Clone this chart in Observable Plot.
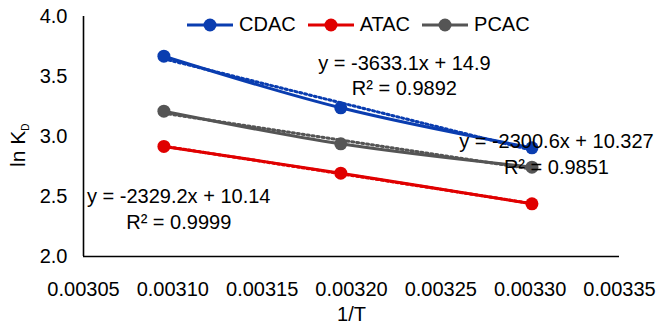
<!DOCTYPE html>
<html>
<head>
<meta charset="utf-8">
<script src="https://cdn.jsdelivr.net/npm/d3@7"></script>
<script src="https://cdn.jsdelivr.net/npm/@observablehq/plot@0.6"></script>
<style>
  body { margin: 0; background: #fff; font-family: "Liberation Sans", Arial, Helvetica, sans-serif; }
  #wrap { position: relative; width: 657px; height: 326px; overflow: hidden; }
  #legend { position: absolute; left: 187px; top: 13px; display: flex; align-items: center; font-size: 20px; color: #000; }
  .item { display: flex; align-items: center; margin-right: 12px; }
  .item span { margin-left: 6px; }
</style>
</head>
<body>
<div id="wrap"></div>
<script>
// ---- data ----
const seriesNames = ["CDAC", "ATAC", "PCAC"];
const seriesColors = ["#0a3db0", "#e00000", "#555555"];
const invT = [0.003095, 0.003194, 0.003301];
const cdac = [3.669, 3.239, 2.906];
const atac = [2.917, 2.694, 2.439];
const pcac = [3.211, 2.939, 2.744];
const xTicks = [0.00305, 0.00310, 0.00315, 0.00320, 0.00325, 0.00330, 0.00335];
const yTicks = [2.0, 2.5, 3.0, 3.5, 4.0];
const eqTexts = ["y = -3633.1x + 14.9\nR² = 0.9892", "y = -2300.6x + 10.327\nR² = 0.9851", "y = -2329.2x + 10.14\nR² = 0.9999"];
const eqX = [0.0032296, 0.0033147, 0.0031033];
const eqY = [3.517, 2.8625, 2.408];

const values = [cdac, atac, pcac];
const rows = [];
seriesNames.forEach((s, i) => invT.forEach((x, j) => rows.push({series: s, x, y: values[i][j]})));
const eqs = eqTexts.map((t, i) => ({text: t, x: eqX[i], y: eqY[i]}));

const font = "Liberation Sans, Arial, Helvetica, sans-serif";
const chart = Plot.plot({
  width: 657,
  height: 326,
  marginLeft: 83,
  marginRight: 38,
  marginTop: 16,
  marginBottom: 70,
  style: {fontFamily: font, fontSize: "20px", color: "#000", background: "#fff"},
  x: {domain: [0.00305, 0.00335]},
  y: {domain: [2, 4]},
  color: {domain: seriesNames, range: seriesColors},
  marks: [
    Plot.axisX({ticks: xTicks, tickFormat: d3.format(".5f"), tickSize: 0, tickPadding: 25, fontSize: 20, label: null}),
    Plot.axisY({ticks: yTicks, tickFormat: d3.format(".1f"), tickSize: 0, tickPadding: 16, fontSize: 20, label: null}),
    Plot.ruleX([0.00305], {y1: 2, y2: 4, stroke: "#000", strokeWidth: 1.6}),
    Plot.ruleY([2], {stroke: "#000", strokeWidth: 1.6}),
    Plot.line(rows, {x: "x", y: "y", z: "series", stroke: "series", strokeWidth: 3, curve: "catmull-rom"}),
    Plot.linearRegressionY(rows, {x: "x", y: "y", z: "series", stroke: "series", ci: 0, strokeWidth: 3, strokeDasharray: "2,3"}),
    Plot.dot(rows, {x: "x", y: "y", fill: "series", r: 6.5}),
    Plot.text(eqs, {x: "x", y: "y", text: "text", fontSize: 20, lineHeight: 1.28, textAnchor: "middle", lineAnchor: "middle", fill: "#000"}),
    Plot.text(["1/T"], {frameAnchor: "bottom", lineAnchor: "top", dy: 50, fontSize: 20, fill: "#000"})
  ]
});

const wrap = document.getElementById("wrap");
wrap.appendChild(chart);

// y axis title with subscript
const svg = d3.select(chart);
const yl = svg.append("text")
  .attr("transform", "translate(25,167) rotate(-90)")
  .attr("text-anchor", "start")
  .attr("font-size", 21)
  .attr("font-family", font)
  .attr("fill", "#000");
yl.append("tspan").text("ln K");
yl.append("tspan").attr("font-size", 10).attr("dy", 4).text("D");

// legend inside plot area
const legend = document.createElement("div");
legend.id = "legend";
seriesNames.forEach((s, i) => {
  const it = document.createElement("div");
  it.className = "item";
  it.innerHTML = `<svg width="46" height="14"><line x1="0" x2="46" y1="7" y2="7" stroke="${seriesColors[i]}" stroke-width="3"/><circle cx="23" cy="7" r="6.5" fill="${seriesColors[i]}"/></svg><span>${s}</span>`;
  legend.appendChild(it);
});
wrap.appendChild(legend);
</script>
</body>
</html>
